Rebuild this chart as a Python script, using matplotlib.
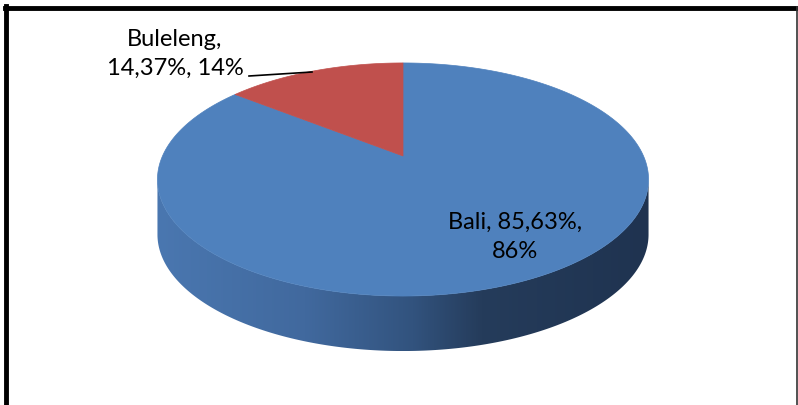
import numpy as np
import matplotlib.pyplot as plt
from matplotlib.patches import Polygon
from matplotlib.colors import LinearSegmentedColormap
from matplotlib.lines import Line2D

labels = ["Bali", "Buleleng"]
shares = [85.63, 14.37]
rounded = ["86%", "14%"]
colors = ["#4F81BD", "#C0504D"]

W, H = 798, 406
CX, CY = 403, 157      # pie centre on screen (px)
A, B = 240.5, 111.8    # horizontal / vertical radius before perspective
K = 0.2016             # perspective strength
DEPTH = 55             # thickness of the disc


def project(t):
    u, v = np.cos(t), np.sin(t)
    d = 1 + K * v
    return CX + A * u / d, CY - B * v / d


fig = plt.figure(figsize=(W / 100, H / 100), dpi=100)
ax = fig.add_axes([0, 0, 1, 1])
ax.set_xlim(0, W)
ax.set_ylim(H, 0)
ax.axis("off")

# side wall (only the front half is visible)
t0 = np.pi + np.arcsin(K)
t1 = 2 * np.pi - np.arcsin(K)
ts = np.linspace(t0, t1, 300)
sx, sy = project(ts)
side_pts = np.column_stack([np.r_[sx, sx[::-1]], np.r_[sy, sy[::-1] + DEPTH]])
side = Polygon(side_pts, closed=True, facecolor="none", edgecolor="none")
ax.add_patch(side)
side_cmap = LinearSegmentedColormap.from_list(
    "side", [(0.0, "#4a77b0"), (0.3, "#41699e"), (0.52, "#32537e"),
             (0.66, "#253c5b"), (1.0, "#1f3350")])
grad = np.linspace(0, 1, 256).reshape(1, -1)
img = ax.imshow(grad, cmap=side_cmap, aspect="auto",
                extent=(sx.min(), sx.max(), sy.max() + DEPTH, sy.min()),
                zorder=1)
img.set_clip_path(side)

# top face: slices go clockwise from 12 o'clock
start = np.pi / 2
for share, col in zip(shares, colors):
    sweep = 2 * np.pi * share / sum(shares)
    tt = np.linspace(start, start - sweep, 400)
    px, py = project(tt)
    pts = np.column_stack([np.r_[CX, px], np.r_[CY, py]])
    ax.add_patch(Polygon(pts, closed=True, facecolor=col, edgecolor=col,
                         linewidth=0.5, zorder=2))
    start -= sweep

font = ["Lato", "DejaVu Sans"]
ax.text(515, 237, f"{labels[0]}, {shares[0]:.2f}%,\n{rounded[0]}".replace(".", ","),
        ha="center", va="center", fontsize=17, family=font,
        linespacing=1.45, zorder=3)
ax.text(175, 54, f"{labels[1]},\n{shares[1]:.2f}%, {rounded[1]}".replace(".", ","),
        ha="center", va="center", fontsize=17, family=font,
        linespacing=1.5, zorder=3)
ax.add_line(Line2D([249, 312], [77, 73], color="black", linewidth=1.2, zorder=3))

# chart frame
ax.add_line(Line2D([5, W], [8.5, 8.5], color="black", linewidth=3.5, zorder=4))
ax.add_line(Line2D([6, 6], [7, H], color="black", linewidth=3.5, zorder=4))
ax.add_line(Line2D([797, 797], [8, H], color="#333333", linewidth=1.2, zorder=4))

fig.savefig("out.png", dpi=100)
